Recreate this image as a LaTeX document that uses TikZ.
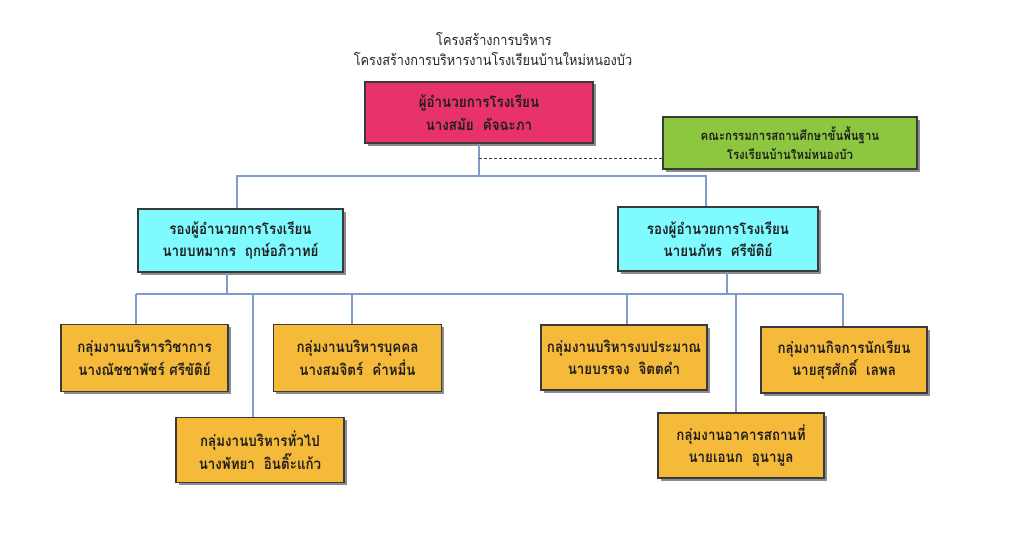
\documentclass[tikz,border=0pt]{standalone}
\usepackage{fontspec}
\newfontfamily\thaifont[Script=Thai,FakeStretch=0.88]{Loma}
\usetikzlibrary{shadows}
\definecolor{dircol}{HTML}{E8336A}
\definecolor{comcol}{HTML}{8DC63F}
\definecolor{depcol}{HTML}{7FFBFF}
\definecolor{grpcol}{HTML}{F6BA3A}
\definecolor{linecol}{HTML}{7F9BC8}
\definecolor{bordcol}{HTML}{3A3A3A}
\definecolor{txtcol}{HTML}{1E1E1E}
\tikzset{
  orgbox/.style={draw=bordcol, line width=1.2pt, align=center, text=txtcol,
    inner sep=0pt,
    font=\thaifont\bfseries\fontsize{15.2}{22.5}\selectfont,
    drop shadow={shadow xshift=2.5pt, shadow yshift=-2.5pt, fill=black, opacity=0.45}},
  conn/.style={draw=linecol, line width=1.5pt},
  dashconn/.style={draw=bordcol, line width=1pt, dash pattern=on 3pt off 2pt},
  titletext/.style={text=black!85, font=\thaifont\fontsize{14.5}{19.5}\selectfont, align=center}
}
\begin{document}
\begin{tikzpicture}[x=1pt,y=-1pt]
\useasboundingbox[fill=white] (0,0) rectangle (1024,559);
% title
\node[titletext] (title1) at (494,39) {โครงสร้างการบริหาร};
\node[titletext] (title2) at (493,59) {โครงสร้างการบริหารงานโรงเรียนบ้านใหม่หนองบัว};
% junction coordinates
\coordinate (t1) at (237,176);
\coordinate (t2) at (706,176);
\coordinate (k) at (479,158);
\coordinate (d1) at (227,294);
\coordinate (d2) at (727,294);
\coordinate (c1) at (136,294);
\coordinate (c2) at (352,294);
\coordinate (c3) at (253,294);
\coordinate (c4) at (627,294);
\coordinate (c5) at (843,294);
\coordinate (c6) at (736,294);
% boxes
\node[orgbox, fill=dircol, minimum width=228pt, minimum height=61pt] (dir) at (479,112.5)
  {ผู้อำนวยการโรงเรียน\\นางสมัย\ \ คัจฉะภา};
\node[orgbox, fill=comcol, minimum width=254pt, minimum height=52pt,
  font=\thaifont\bfseries\fontsize{13}{19}\selectfont] (com) at (790,143)
  {คณะกรรมการสถานศึกษาขั้นพื้นฐาน\\โรงเรียนบ้านใหม่หนองบัว};
\node[orgbox, fill=depcol, minimum width=205pt, minimum height=63pt] (dep1) at (240.5,240.5)
  {รองผู้อำนวยการโรงเรียน\\นายบทมากร\ \ ฤกษ์อภิวาทย์};
\node[orgbox, fill=depcol, minimum width=200pt, minimum height=64pt] (dep2) at (718,239)
  {รองผู้อำนวยการโรงเรียน\\นายนภัทร\ \ ศรีขัติย์};
\node[orgbox, fill=grpcol, minimum width=167pt, minimum height=67pt] (g1) at (144.5,358)
  {กลุ่มงานบริหารวิชาการ\\นางณัชชาพัชร์ ศรีขัติย์};
\node[orgbox, fill=grpcol, minimum width=168pt, minimum height=67pt] (g2) at (357.5,358)
  {กลุ่มงานบริหารบุคคล\\นางสมจิตร์\ \ คำหมื่น};
\node[orgbox, fill=grpcol, minimum width=168pt, minimum height=65pt] (g3) at (260,450)
  {กลุ่มงานบริหารทั่วไป\\นางพัทยา\ \ อินติ๊ะแก้ว};
\node[orgbox, fill=grpcol, minimum width=166pt, minimum height=65pt] (g4) at (624,357.5)
  {กลุ่มงานบริหารงบประมาณ\\นายบรรจง\ \ จิตตคำ};
\node[orgbox, fill=grpcol, minimum width=166pt, minimum height=66pt] (g5) at (844,360)
  {กลุ่มงานกิจการนักเรียน\\นายสุรศักดิ์\ \ เลพล};
\node[orgbox, fill=grpcol, minimum width=166pt, minimum height=65pt] (g6) at (741,445.5)
  {กลุ่มงานอาคารสถานที่\\นายเอนก\ \ อุนามูล};
% connectors
\draw[conn] (dir.south) -- (dir.south |- t1);
\draw[conn] (t1 |- dep1.north) -- (t1) -- (t2) -- (t2 |- dep2.north);
\draw[dashconn] (k) -- (k -| com.west);
\draw[conn] (d1 |- dep1.south) -- (d1);
\draw[conn] (d2 |- dep2.south) -- (d2);
\draw[conn] (c1) -- (c5);
\draw[conn] (c1) -- (c1 |- g1.north);
\draw[conn] (c2) -- (c2 |- g2.north);
\draw[conn] (c3) -- (c3 |- g3.north);
\draw[conn] (c4) -- (c4 |- g4.north);
\draw[conn] (c5) -- (c5 |- g5.north);
\draw[conn] (c6) -- (c6 |- g6.north);
\end{tikzpicture}
\end{document}
